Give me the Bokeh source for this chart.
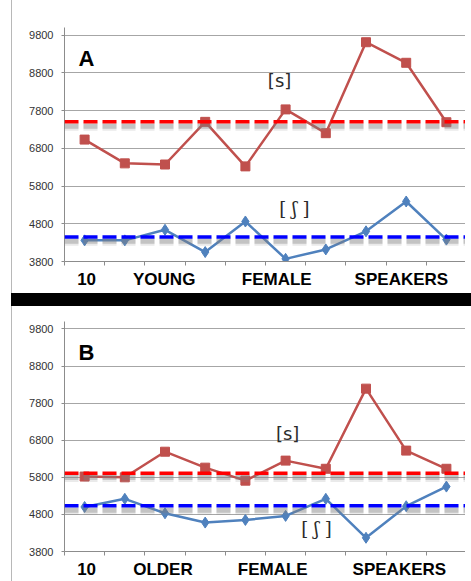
from bokeh.plotting import figure
from bokeh.models import Range1d, FixedTicker, Span, Div
from bokeh.layouts import column
from bokeh.core.properties import value
from bokeh.embed import file_html
from bokeh.resources import INLINE

# ---- data ----
speakers = [1, 2, 3, 4, 5, 6, 7, 8, 9, 10]
y_ticks = [3800, 4800, 5800, 6800, 7800, 8800, 9800]

a_s = [7030, 6400, 6370, 7500, 6320, 7830, 7200, 9610, 9065, 7490]
a_sh = [4360, 4360, 4640, 4050, 4860, 3870, 4120, 4600, 5390, 4380]
a_s_ref = 7500
a_sh_ref = 4450
a_words = ["10", "YOUNG", "FEMALE", "SPEAKERS"]
a_word_pos = [1.05, 2.98, 5.78, 8.88]

b_s = [5820, 5800, 6490, 6060, 5710, 6250, 6030, 8190, 6520, 6030]
b_sh = [5000, 5220, 4830, 4580, 4650, 4760, 5220, 4170, 5020, 5550]
b_s_ref = 5910
b_sh_ref = 5030
b_words = ["10", "OLDER", "FEMALE", "SPEAKERS"]
b_word_pos = [1.05, 2.95, 5.68, 8.83]

# label placements (data units)
a_title_pos = (0.85, 9500)
b_title_pos = (0.85, 9500)
a_s_lab = (5.85, 8600)
a_sh_lab = (6.22, 5200)
b_s_lab = (6.05, 6980)
b_sh_lab = (6.77, 4420)

RED = "#C0504D"
BLUE = "#4F81BD"
SHADOW_OFFSET = 115


def panel(title, s_vals, sh_vals, s_ref, sh_ref, words, word_pos,
          title_pos, s_lab, sh_lab, height, btop, bbot):
    p = figure(width=454, height=height, output_backend="svg",
               toolbar_location=None,
               x_range=Range1d(0.5, 10.5), y_range=Range1d(3800, 10000),
               min_border_left=52, min_border_right=0,
               min_border_top=btop, min_border_bottom=bbot,
               margin=(0, 0, 0, 11))
    p.outline_line_color = None
    p.background_fill_color = "white"
    p.styles = {"border-left": "1px solid #b8b8b8"}

    # y axis
    p.yaxis.ticker = FixedTicker(ticks=y_ticks)
    p.yaxis.axis_line_color = "#8c8c8c"
    p.yaxis.major_tick_line_color = "#8c8c8c"
    p.yaxis.major_tick_out = 3
    p.yaxis.major_tick_in = 0
    p.yaxis.minor_tick_line_color = None
    p.yaxis.major_label_text_font = "Liberation Sans"
    p.yaxis.major_label_text_font_size = "11px"
    p.yaxis.major_label_text_color = "#333333"
    p.yaxis.major_label_standoff = 8
    p.ygrid.ticker = FixedTicker(ticks=y_ticks)
    p.ygrid.grid_line_color = "#a6a6a6"
    p.ygrid.grid_line_width = 1
    p.xgrid.grid_line_color = None

    # x axis
    p.xaxis.ticker = FixedTicker(ticks=word_pos,
                                 minor_ticks=[i + 0.5 for i in range(0, 11)])
    p.xaxis.major_label_overrides = {pos: w for pos, w in zip(word_pos, words)}
    p.xaxis.axis_line_color = "#8c8c8c"
    p.xaxis.major_tick_line_color = None
    p.xaxis.major_tick_out = 0
    p.xaxis.major_tick_in = 0
    p.xaxis.minor_tick_line_color = "#8c8c8c"
    p.xaxis.minor_tick_out = 4
    p.xaxis.minor_tick_in = 0
    p.xaxis.major_label_text_font = "Liberation Sans"
    p.xaxis.major_label_text_font_style = "bold"
    p.xaxis.major_label_text_font_size = "17px"
    p.xaxis.major_label_text_color = "#000000"
    p.xaxis.major_label_standoff = 4

    # reference dashed lines with soft shadows
    for ref, col in ((s_ref, "#FF0000"), (sh_ref, "#0000FF")):
        p.add_layout(Span(location=ref - SHADOW_OFFSET, dimension="width",
                          line_color="#8a8a8a", line_alpha=0.18,
                          line_width=9, line_dash="14 5"))
        p.add_layout(Span(location=ref - SHADOW_OFFSET, dimension="width",
                          line_color="#7a7a7a", line_alpha=0.35,
                          line_width=5, line_dash="14 5"))
        p.add_layout(Span(location=ref, dimension="width",
                          line_color=col, line_width=3.5, line_dash="14 5"))

    # data series
    p.line(speakers, s_vals, line_color=RED, line_width=2.5)
    p.scatter(speakers, s_vals, marker="square", size=9,
              fill_color=RED, line_color=RED)
    p.line(speakers, sh_vals, line_color=BLUE, line_width=2.5)
    p.scatter(speakers, sh_vals, marker="diamond", size=11,
              fill_color=BLUE, line_color=BLUE)

    # labels
    p.text([title_pos[0]], [title_pos[1]], text=[title],
           text_font=value("Liberation Sans"), text_font_style="bold",
           text_font_size="22px", text_color="#000000",
           text_align="left", text_baseline="top")
    p.text([s_lab[0]], [s_lab[1]], text=["[s]"],
           text_font=value("DejaVu Sans"), text_font_size="18px",
           text_color="#2b2b2b", text_align="center",
           text_baseline="middle")
    p.text([sh_lab[0]], [sh_lab[1]], text=["[ \u0283 ]"],
           text_font=value("DejaVu Serif"), text_font_size="18px",
           text_color="#2b2b2b", text_align="center",
           text_baseline="middle")
    return p


pA = panel("A", a_s, a_sh, a_s_ref, a_sh_ref, a_words, a_word_pos,
           a_title_pos, a_s_lab, a_sh_lab, height=293, btop=27, bbot=32)
bar = Div(text="", width=460, height=13, margin=(0, 0, 0, 11),
          styles={"background-color": "black"})
pB = panel("B", b_s, b_sh, b_s_ref, b_sh_ref, b_words, b_word_pos,
           b_title_pos, b_s_lab, b_sh_lab, height=275, btop=15, bbot=25)

layout = column(pA, bar, pB, spacing=0)

open("out.html", "w").write(file_html(layout, INLINE))
